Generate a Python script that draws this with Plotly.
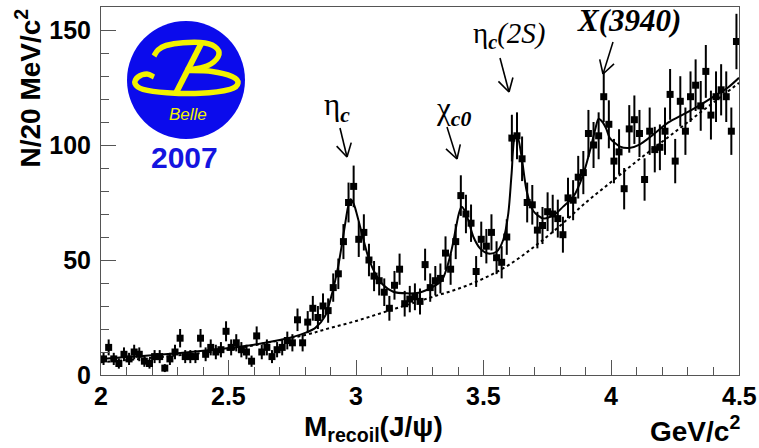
import numpy as np
import plotly.graph_objects as go

# ---- histogram: J/psi recoil mass, 20 MeV bins from 2.0 to 4.5 GeV ----
bin_low, bin_width, n_bins = 2.0, 0.02, 125
counts = [
    7, 12, 7, 5, 9, 7, 10, 9, 6, 5, 8, 8, 3, 7, 10, 16, 8, 8, 8, 16, 9, 12, 10, 11, 19, 12,
    14, 11, 10, 6, 17, 10, 12, 8, 11, 12, 15, 14, 24, 14, 23, 29, 25, 30, 28, 38, 44, 58, 75, 82,
    59, 62, 50, 43, 41, 36, 29, 39, 46, 31, 33, 34, 32, 48, 38, 41, 42, 53, 46, 58, 78, 70, 66,
    45, 59, 56, 62,
    51, 49, 60, 103, 104, 94, 75, 74, 63, 65, 71, 70, 68, 61, 77, 76, 86, 88, 105, 100, 104,
    121, 109, 93, 97,
    81, 107, 111, 105, 85, 106, 98, 99, 106, 122, 93, 119, 106, 121, 126, 117, 132, 113, 121,
    124, 121, 106, 145,
]
mass = np.round(bin_low + bin_width * (np.arange(n_bins) + 0.5), 3)
errors = np.sqrt(np.array(counts, dtype=float))

# ---- fit result (signal + background) ----
fit_x = [2.00, 2.10, 2.20, 2.30, 2.40, 2.50, 2.60, 2.70, 2.76, 2.80, 2.84, 2.877, 2.902,
         2.929, 2.955, 2.968, 2.978, 2.99, 3.00, 3.021, 3.047, 3.074, 3.106, 3.145, 3.198,
         3.25, 3.302, 3.335, 3.355, 3.375, 3.39, 3.402, 3.413, 3.425, 3.439, 3.459, 3.485,
         3.518, 3.55, 3.576, 3.596, 3.609, 3.622, 3.631, 3.648, 3.668, 3.694, 3.733, 3.775,
         3.811, 3.851, 3.886, 3.916, 3.936, 3.95, 3.965, 3.98, 3.994, 4.034, 4.07, 4.11,
         4.156, 4.222, 4.287, 4.352, 4.418, 4.457, 4.50]
fit_y = [7.0, 7.8, 8.6, 9.5, 10.5, 11.7, 13.2, 15.2, 16.8, 18.3, 20.5, 25.4, 34.0,
         47.0, 64.5, 73.0, 76.4, 74.5, 71.0, 62.0, 51.4, 44.2, 39.1, 36.2, 35.5,
         35.9, 38.4, 41.0, 46.5, 55.0, 63.5, 70.0, 73.2, 71.5, 67.4, 60.1, 55.1,
         52.8, 53.6, 58.7, 70.3, 87.7, 103.6, 104.0, 94.9, 80.0, 71.3, 68.1, 69.6,
         73.2, 77.5, 86.0, 97.5, 106.5, 111.4, 110.0, 107.0, 103.0, 99.3, 98.7, 100.2,
         103.8, 109.7, 113.6, 117.7, 122.3, 125.0, 129.2]

# ---- background component of the fit ----
bkg_x = [2.0, 2.25, 2.5, 2.65, 2.8, 2.9, 3.0, 3.1, 3.2, 3.3, 3.4, 3.5, 3.6, 3.7, 3.8,
         3.9, 4.0, 4.1, 4.2, 4.3, 4.4, 4.5]
bkg_y = [5.5, 8.0, 11.0, 14.0, 17.4, 20.5, 23.5, 27.0, 30.5, 34.0, 37.5, 42.0, 48.0,
         56.0, 65.0, 75.0, 84.0, 93.0, 101.5, 110.0, 118.5, 127.0]

x_ticks = [2, 2.5, 3, 3.5, 4, 4.5]
x_tick_text = ["2", "2.5", "3", "3.5", "4", "4.5"]
y_ticks = [0, 50, 100, 150]
y_tick_text = ["0", "50", "100", "150"]

# ---- page geometry ----
W, H = 759, 448
ML, MR, MT, MB = 101, 20, 7, 73
PW, PH = W - ML - MR, H - MT - MB
AX = "#555555"


def paper(px, py):
    """pixel position on the page -> paper coordinates"""
    return (px - ML) / PW, (H - MB - py) / PH


fig = go.Figure()
fig.add_trace(go.Scatter(x=bkg_x, y=bkg_y, mode="lines",
                         line=dict(color="black", width=2, dash="dot", shape="spline"),
                         hoverinfo="skip"))
fig.add_trace(go.Scatter(x=fit_x, y=fit_y, mode="lines",
                         line=dict(color="black", width=2, shape="spline", smoothing=0.8),
                         hoverinfo="skip"))
fig.add_trace(go.Scatter(x=mass, y=counts, mode="markers",
                         marker=dict(symbol="square", size=7, color="black"),
                         error_y=dict(type="data", array=errors, thickness=2, width=0,
                                      color="black")))

tick_font = dict(family="Liberation Sans", size=25, color="black", weight="bold")
fig.update_xaxes(range=[2, 4.5], tickvals=x_ticks, showticklabels=False,
                 ticks="inside", ticklen=15, tickwidth=1, tickcolor=AX,
                 minor=dict(tick0=2, dtick=0.1, ticks="inside", ticklen=8,
                            tickwidth=1, tickcolor=AX),
                 showline=True, linecolor=AX, linewidth=1, mirror=True,
                 showgrid=False, zeroline=False)
fig.update_yaxes(range=[0, 160], tickvals=y_ticks, ticktext=y_tick_text,
                 ticks="inside", ticklen=15, tickwidth=1, tickcolor=AX,
                 minor=dict(tick0=0, dtick=10, ticks="inside", ticklen=8,
                            tickwidth=1, tickcolor=AX),
                 showline=True, linecolor=AX, linewidth=1, mirror=True,
                 showgrid=False, zeroline=False, tickfont=tick_font,
                 ticklabelstandoff=4)

shapes = []
annotations = []


def text_at(px, py, text, size, family="Liberation Sans", color="black",
            weight="normal", xanchor="center", yanchor="middle", angle=0):
    x, y = paper(px, py)
    annotations.append(dict(x=x, y=y, xref="paper", yref="paper", text=text,
                            showarrow=False, xanchor=xanchor, yanchor=yanchor,
                            textangle=angle,
                            font=dict(family=family, size=size, color=color,
                                      weight=weight)))


def arrow(tail, tip, wing=15, half_angle=30):
    tx, ty = tail
    hx, hy = tip
    d = np.hypot(tx - hx, ty - hy)
    ux, uy = (tx - hx) / d, (ty - hy) / d
    segs = [(tail, tip)]
    for s in (1, -1):
        a = np.radians(s * half_angle)
        wx = ux * np.cos(a) - uy * np.sin(a)
        wy = ux * np.sin(a) + uy * np.cos(a)
        segs.append((tip, (hx + wing * wx, hy + wing * wy)))
    for p, q in segs:
        x0, y0 = paper(*p)
        x1, y1 = paper(*q)
        shapes.append(dict(type="line", xref="paper", yref="paper", x0=x0, y0=y0,
                           x1=x1, y1=y1, line=dict(color="black", width=1.6)))


def smooth_path(pts):
    pts = [np.array(p, dtype=float) for p in pts]

    def fmt(p):
        x, y = paper(*p)
        return f"{x:.5f},{y:.5f}"

    path = "M" + fmt(pts[0])
    for i in range(len(pts) - 1):
        p0 = pts[i - 1] if i > 0 else pts[i]
        p1, p2 = pts[i], pts[i + 1]
        p3 = pts[i + 2] if i + 2 < len(pts) else pts[i + 1]
        c1 = p1 + (p2 - p0) / 6
        c2 = p2 - (p3 - p1) / 6
        path += " C" + fmt(c1) + " " + fmt(c2) + " " + fmt(p2)
    return path


# ---- x tick labels, set just under the axis ----
label_y = paper(0, 396)[1]
for v, t in zip(x_ticks, x_tick_text):
    annotations.append(dict(x=v, y=label_y, xref="x", yref="paper", text=t,
                            showarrow=False, xanchor="center", yanchor="middle",
                            font=tick_font))

# ---- axis titles ----
text_at(28, 7, "N/20 MeV/c<sup>2</sup>", 28, weight="bold", yanchor="top", angle=-90)
text_at(373, 428, "M<sub>recoil</sub>(J/ψ)", 28, weight="bold")
text_at(742, 429, "GeV/c<sup>2</sup>", 28, weight="bold", xanchor="right")

# ---- resonance labels and arrows ----
SERIF = "Liberation Serif"
text_at(337, 107, "η<sub><b><i>c</i></b></sub>", 31, family=SERIF)
text_at(453, 111, "χ<sub><b><i>c0</i></b></sub>", 31, family=SERIF)
text_at(509, 35, "η<sub><b><i>c</i></b></sub><i>(2S)</i>", 29, family=SERIF)
text_at(629, 21, "<b><i>X(3940)</i></b>", 31, family=SERIF)
arrow((340, 128), (347, 157))
arrow((447, 127), (457, 159))
arrow((500, 58), (509, 92))
arrow((613, 42), (603, 74))

# ---- Belle 2007 badge ----
cx0, cy0 = paper(127, 21)
cx1, cy1 = paper(245, 139)
shapes.append(dict(type="circle", xref="paper", yref="paper", x0=cx0, y0=cy1,
                   x1=cx1, y1=cy0, fillcolor="#0b0bec", line=dict(width=0)))
yellow = "#f2f200"
b_top = [(154, 56), (158, 50), (166, 45.5), (183, 42.7), (205, 43), (217, 48.5),
         (218, 57), (207, 66), (186, 70.5)]
b_bowl = [(186, 70.5), (212, 71.5), (232, 76.5), (238, 83), (230, 89.3), (200, 93.3),
          (167, 92.7), (143, 89.3), (135, 83.5), (138, 77), (147, 74), (154, 77)]
for pts in (b_top, b_bowl):
    shapes.append(dict(type="path", xref="paper", yref="paper", path=smooth_path(pts),
                       line=dict(color=yellow, width=5.5), fillcolor="rgba(0,0,0,0)"))
sx0, sy0 = paper(201, 44)
sx1, sy1 = paper(176, 93)
shapes.append(dict(type="line", xref="paper", yref="paper", x0=sx0, y0=sy0, x1=sx1,
                   y1=sy1, line=dict(color=yellow, width=6)))
text_at(188, 115, "<i>Belle</i>", 17, color=yellow)
text_at(184, 157, "2007", 30, color="#1414e0", weight="bold")

fig.update_layout(width=W, height=H, margin=dict(l=ML, r=MR, t=MT, b=MB),
                  paper_bgcolor="white", plot_bgcolor="white", showlegend=False,
                  shapes=shapes, annotations=annotations)

fig.write_html("out.html")
